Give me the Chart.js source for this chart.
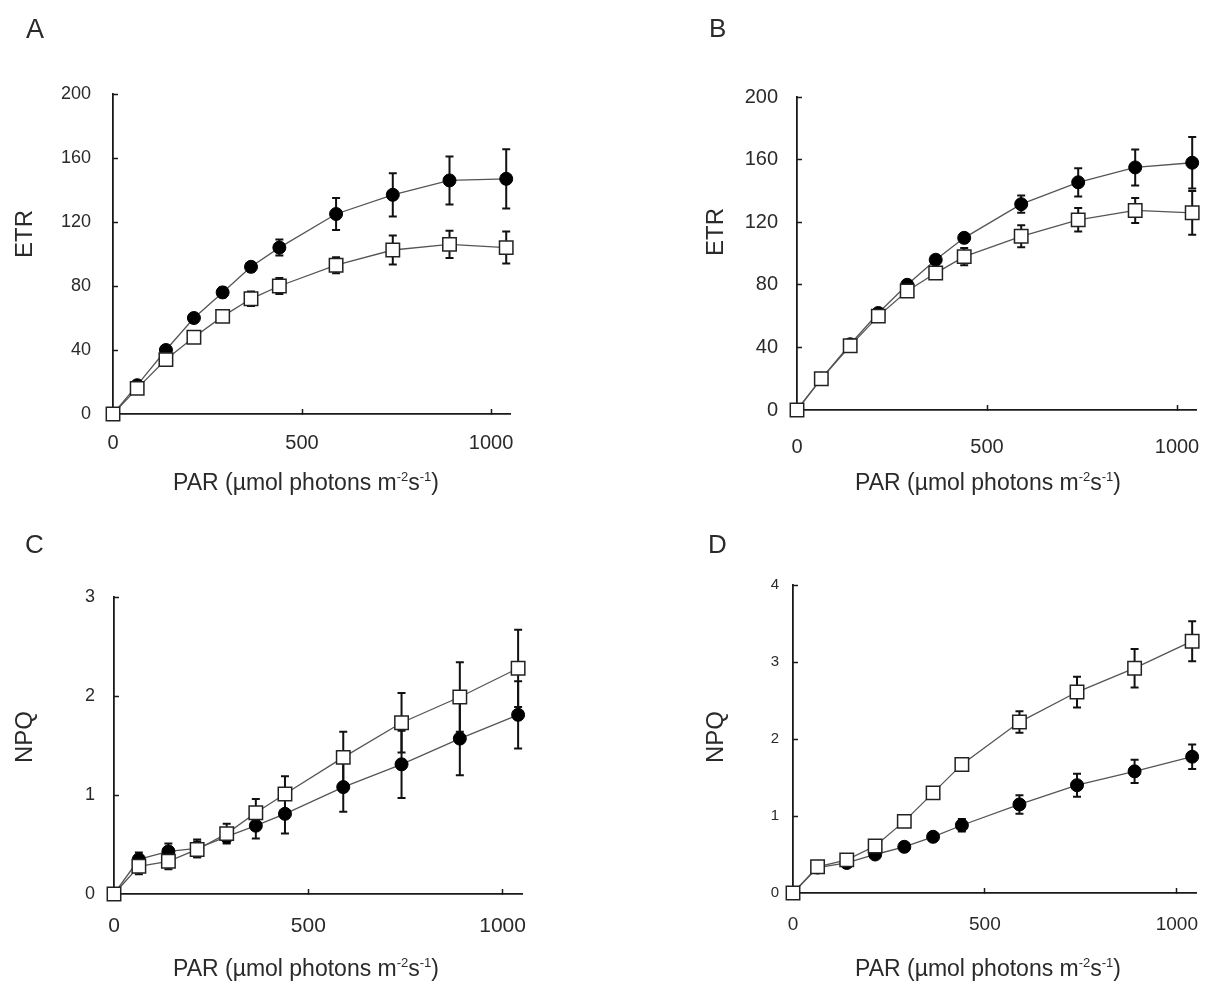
<!DOCTYPE html>
<html>
<head>
<meta charset="utf-8">
<script src="https://cdn.jsdelivr.net/npm/chart.js@4.4.0/dist/chart.umd.min.js"></script>
<style>
  body { margin: 0; background: #fff; width: 1207px; height: 984px; position: relative; overflow: hidden; }
  canvas { position: absolute; }
</style>
</head>
<body>
<canvas id="cA"></canvas>
<canvas id="cB"></canvas>
<canvas id="cC"></canvas>
<canvas id="cD"></canvas>
<script>
// light steps (PAR, umol photons m-2 s-1)
const par = [0, 64, 140, 214, 290, 365, 440, 590, 740, 890, 1040];
const xTicks = [0, 500, 1000];

// A - ETR
const etrA_filled = [0, 18, 40, 60, 76, 92, 104, 125, 137, 146, 147];
const etrA_filledErr = [0, 1, 2, 2, 3, 3, 5, 10, 13.5, 15, 18.5];
const etrA_open = [0, 16, 34, 48, 61, 72, 80, 93, 102.5, 106, 104];
const etrA_openErr = [0, 1, 1, 2, 2, 4.5, 5, 5, 9, 8.5, 10];

// B - ETR
const etrB_filled = [0, 20, 42, 62, 80, 96, 110, 131.5, 145.5, 155, 158];
const etrB_filledErr = [0, 1, 1, 2, 2, 2, 2.5, 5.5, 9, 11.5, 16.5];
const etrB_open = [0, 20, 41, 60, 76, 87.5, 98, 111, 121.5, 127.5, 126];
const etrB_openErr = [0, 1, 1, 2, 2, 2, 5.5, 7, 7.5, 8, 14];

// C - NPQ
const npqC_filled = [0, 0.35, 0.43, 0.46, 0.58, 0.69, 0.81, 1.08, 1.31, 1.57, 1.81];
const npqC_filledErr = [0, 0.07, 0.08, 0.09, 0.06, 0.13, 0.2, 0.25, 0.34, 0.37, 0.34];
const npqC_open = [0, 0.28, 0.33, 0.45, 0.61, 0.82, 1.01, 1.38, 1.73, 1.99, 2.28];
const npqC_openErr = [0, 0.08, 0.08, 0.08, 0.1, 0.14, 0.18, 0.26, 0.3, 0.35, 0.39];

// D - NPQ
const npqD_filled = [0, 0.33, 0.39, 0.50, 0.60, 0.73, 0.88, 1.15, 1.40, 1.58, 1.77];
const npqD_filledErr = [0, 0.02, 0.02, 0.03, 0.03, 0.04, 0.08, 0.12, 0.15, 0.15, 0.16];
const npqD_open = [0, 0.34, 0.43, 0.61, 0.93, 1.30, 1.67, 2.22, 2.61, 2.92, 3.27];
const npqD_openErr = [0, 0.02, 0.03, 0.03, 0.04, 0.04, 0.05, 0.14, 0.2, 0.25, 0.26];

const etrTicks = [0, 40, 80, 120, 160, 200];
const npqTicksC = [0, 1, 2, 3];
const npqTicksD = [0, 1, 2, 3, 4];

const FONT = '"Liberation Sans", Arial, sans-serif';
const TEXT = '#2a2a2a';
const AXIS = '#1a1a1a';

// vertical error bars drawn under the markers
const errorBars = {
    id: 'errorBars',
    beforeDatasetsDraw(chart) {
        const ctx = chart.ctx;
        const xs = chart.scales.x, ys = chart.scales.y;
        ctx.save();
        ctx.strokeStyle = '#111';
        ctx.lineWidth = 2;
        chart.data.datasets.forEach(ds => {
            ds.data.forEach((pt, i) => {
                const e = ds.errors[i];
                if (!e) return;
                const px = xs.getPixelForValue(pt.x);
                const top = ys.getPixelForValue(pt.y + e);
                const bot = ys.getPixelForValue(pt.y - e);
                ctx.beginPath();
                ctx.moveTo(px, top); ctx.lineTo(px, bot);
                ctx.moveTo(px - 4, top); ctx.lineTo(px + 4, top);
                ctx.moveTo(px - 4, bot); ctx.lineTo(px + 4, bot);
                ctx.stroke();
            });
        });
        ctx.restore();
    }
};

function pts(vals) {
    return par.map((p, i) => ({ x: p, y: vals[i] }));
}

function makePanel(p) {
    const cv = document.getElementById(p.id);
    const [ox, oy, w, h] = p.canvas;
    cv.style.left = ox + 'px';
    cv.style.top = oy + 'px';
    cv.width = w;
    cv.height = h;
    const area = { left: p.area[0] - ox, top: p.area[1] - oy, right: p.area[2] - ox, bottom: p.area[3] - oy };

    // panel letter, axis titles
    const panelText = {
        id: 'panelText',
        afterDraw(chart) {
            const ctx = chart.ctx;
            ctx.save();
            ctx.fillStyle = TEXT;
            ctx.textAlign = 'left';
            ctx.textBaseline = 'alphabetic';
            ctx.font = p.letterSize + 'px ' + FONT;
            ctx.fillText(p.letter, p.letterPos[0] - ox, p.letterPos[1] - oy);

            ctx.save();
            ctx.translate(p.yTitlePos[0] - ox, p.yTitlePos[1] - oy);
            ctx.rotate(-Math.PI / 2);
            ctx.textAlign = 'center';
            ctx.textBaseline = 'middle';
            ctx.font = '24px ' + FONT;
            ctx.fillText(p.yTitle, 0, 0);
            ctx.restore();

            // PAR (µmol photons m-2s-1) with superscripts
            const parts = [
                ['PAR (\u00b5mol photons m', false], ['-2', true], ['s', false], ['-1', true], [')', false]
            ];
            const big = '23px ' + FONT, small = '13px ' + FONT;
            let total = 0;
            parts.forEach(([t, sup]) => { ctx.font = sup ? small : big; total += ctx.measureText(t).width; });
            let x = p.xTitlePos[0] - ox - total / 2;
            const base = p.xTitlePos[1] - oy;
            ctx.textAlign = 'left';
            parts.forEach(([t, sup]) => {
                ctx.font = sup ? small : big;
                ctx.fillText(t, x, sup ? base - 9 : base);
                x += ctx.measureText(t).width;
            });
            ctx.restore();
        }
    };

    new Chart(cv, {
        type: 'line',
        data: {
            datasets: [
                {
                    label: 'open',
                    data: pts(p.open),
                    errors: p.openErr,
                    borderColor: '#555',
                    borderWidth: 1.3,
                    pointStyle: 'rect',
                    pointRadius: 9.5,
                    pointBackgroundColor: '#fff',
                    pointBorderColor: '#222',
                    pointBorderWidth: 1.5,
                    tension: 0,
                    clip: false
                },
                {
                    label: 'filled',
                    data: pts(p.filled),
                    errors: p.filledErr,
                    borderColor: '#555',
                    borderWidth: 1.3,
                    pointStyle: 'circle',
                    pointRadius: 6.5,
                    pointBackgroundColor: '#000',
                    pointBorderColor: '#000',
                    pointBorderWidth: 1,
                    tension: 0,
                    clip: false
                }
            ]
        },
        options: {
            responsive: false,
            animation: false,
            devicePixelRatio: 1,
            layout: { padding: { left: 0, top: area.top, right: w - area.right, bottom: 0 } },
            plugins: { legend: { display: false }, tooltip: { enabled: false } },
            scales: {
                x: {
                    type: 'linear',
                    min: 0,
                    max: 1050,
                    afterBuildTicks: s => { s.ticks = xTicks.map(v => ({ value: v })); },
                    afterFit: s => {
                        s.height = h - area.bottom;
                        s.paddingLeft = 0;
                        s.paddingRight = 0;
                    },
                    grid: { drawOnChartArea: false, tickLength: -5, tickWidth: 1.5, color: AXIS },
                    border: { display: true, color: AXIS, width: 1.8 },
                    ticks: {
                        color: TEXT, font: { family: FONT, size: p.xTickSize }, padding: p.xPad, maxRotation: 0,
                        callback: v => String(v)
                    }
                },
                y: {
                    type: 'linear',
                    min: 0,
                    max: p.yTicks[p.yTicks.length - 1],
                    afterBuildTicks: s => { s.ticks = p.yTicks.map(v => ({ value: v })); },
                    afterFit: s => {
                        s.width = area.left;
                        s.paddingTop = 0;
                        s.paddingBottom = 0;
                    },
                    grid: { drawOnChartArea: false, tickLength: -5, tickWidth: 1.5, color: AXIS },
                    border: { display: true, color: AXIS, width: 1.8 },
                    ticks: {
                        color: TEXT, font: { family: FONT, size: p.yTickSize }, padding: p.yPad,
                        callback: v => String(v)
                    }
                }
            }
        },
        plugins: [errorBars, panelText]
    });
}

makePanel({
    id: 'cA', canvas: [0, 0, 600, 505], area: [113, 94, 510, 414],
    filled: etrA_filled, filledErr: etrA_filledErr, open: etrA_open, openErr: etrA_openErr,
    yTicks: etrTicks, yTickSize: 18, yPad: 27, xTickSize: 20, xPad: 22,
    letter: 'A', letterSize: 27, letterPos: [26, 38],
    yTitle: 'ETR', yTitlePos: [25, 234], xTitlePos: [306, 490]
});
makePanel({
    id: 'cB', canvas: [600, 0, 607, 505], area: [797, 97, 1196, 410],
    filled: etrB_filled, filledErr: etrB_filledErr, open: etrB_open, openErr: etrB_openErr,
    yTicks: etrTicks, yTickSize: 20, yPad: 24, xTickSize: 20, xPad: 30,
    letter: 'B', letterSize: 26, letterPos: [709, 37],
    yTitle: 'ETR', yTitlePos: [716, 232], xTitlePos: [988, 490]
});
makePanel({
    id: 'cC', canvas: [0, 505, 600, 479], area: [114, 597, 522, 894],
    filled: npqC_filled, filledErr: npqC_filledErr, open: npqC_open, openErr: npqC_openErr,
    yTicks: npqTicksC, yTickSize: 18, yPad: 24, xTickSize: 21, xPad: 25,
    letter: 'C', letterSize: 26, letterPos: [25, 553],
    yTitle: 'NPQ', yTitlePos: [25, 737], xTitlePos: [306, 976]
});
makePanel({
    id: 'cD', canvas: [600, 505, 607, 479], area: [793, 585, 1202, 893],
    filled: npqD_filled, filledErr: npqD_filledErr, open: npqD_open, openErr: npqD_openErr,
    yTicks: npqTicksD, yTickSize: 15, yPad: 19, xTickSize: 19, xPad: 25,
    letter: 'D', letterSize: 26, letterPos: [708, 553],
    yTitle: 'NPQ', yTitlePos: [716, 737], xTitlePos: [988, 976]
});
</script>
</body>
</html>
